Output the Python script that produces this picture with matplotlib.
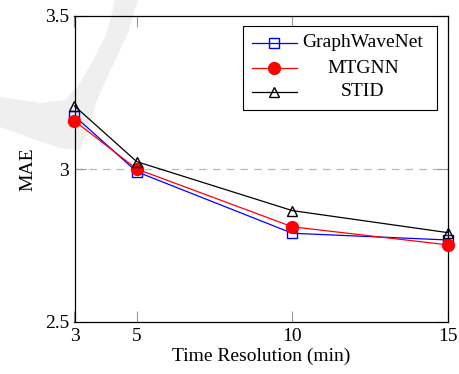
import numpy as np
import matplotlib
matplotlib.use("Agg")
import matplotlib.pyplot as plt
from matplotlib.patches import Polygon, Rectangle
from matplotlib.lines import Line2D

plt.rcParams['font.family'] = ['Liberation Serif', 'DejaVu Serif']
plt.rcParams['font.size'] = 14

# data
resolution = [3, 5, 10, 15]
graphwavenet = [3.173, 2.991, 2.790, 2.768]
mtgnn = [3.157, 3.000, 2.811, 2.752]
stid = [3.206, 3.024, 2.864, 2.792]
x_ticks = [3, 5, 10, 15]
y_ticks = [2.5, 3, 3.5]

W, H = 460, 374
fig = plt.figure(figsize=(W / 100, H / 100), dpi=100)

# faint watermark stroke behind the plot (pixel coords, y from top)
wm = [(138, 0), (128, 33), (112, 67), (97, 100), (88, 130), (80, 150),
      (60, 148), (30, 138), (0, 127), (0, 97), (40, 103), (65, 100),
      (78, 86), (90, 66), (107, 33), (115, 0)]
wm = [(px / W, 1 - py / H) for px, py in wm]
fig.patches.append(Polygon(wm, closed=True, transform=fig.transFigure,
                           facecolor='#efefef', edgecolor='none', zorder=-1))

ax = fig.add_axes([74.5 / W, 1 - 322 / H, 373.5 / W, 306 / H])
ax.patch.set_alpha(0)

series = [
    ('GraphWaveNet', graphwavenet, dict(color='blue', marker='s', markersize=7,
                                        markerfacecolor='none', markeredgecolor='blue')),
    ('MTGNN', mtgnn, dict(color='red', marker='o', markersize=8.5,
                          markerfacecolor='red', markeredgecolor='red')),
    ('STID', stid, dict(color='black', marker='^', markersize=6.5,
                        markerfacecolor='none', markeredgecolor='black')),
]
for name, vals, st in series:
    ax.plot(resolution, vals, lw=0.9, clip_on=False, zorder=3, **st)

ax.set_xlim(3, 15)
ax.set_ylim(2.5, 3.5)
ax.set_xticks(x_ticks)
ax.set_yticks(y_ticks)
ax.set_xticklabels([str(v) for v in x_ticks])
ax.set_yticklabels(['2.5', '3', '3.5'])
ax.axhline(3, color='#b8b8b8', lw=0.9, dashes=(6, 5), zorder=1)

ax.tick_params(direction='in', length=8, width=0.8, color='#999999',
               top=True, right=True, pad=4, labelsize=14)
for s in ax.spines.values():
    s.set_linewidth(0.9)
    s.set_color('black')

ax.set_xlabel('Time Resolution (min)', fontsize=14, labelpad=2)
ax.set_ylabel('MAE', fontsize=14, labelpad=6)

# legend drawn by hand so the labels can be centred like pgfplots
ax.add_patch(Rectangle((0.451, 0.693), 0.5195, 0.274, transform=ax.transAxes,
                       facecolor='white', edgecolor='black', lw=0.8, zorder=5))
rows = [0.912, 0.830, 0.752]
for (name, vals, st), yr in zip(series, rows):
    ax.add_line(Line2D([0.475, 0.596], [yr, yr], transform=ax.transAxes,
                       color=st['color'], lw=0.9, zorder=6))
    mst = dict(st)
    mst.pop('color')
    ax.add_line(Line2D([0.534], [yr], transform=ax.transAxes, lw=0,
                       zorder=7, **mst))
    ax.text(0.772, yr, name, transform=ax.transAxes, ha='center', va='center',
            fontsize=14, zorder=7)

fig.savefig('out.png', dpi=100)
